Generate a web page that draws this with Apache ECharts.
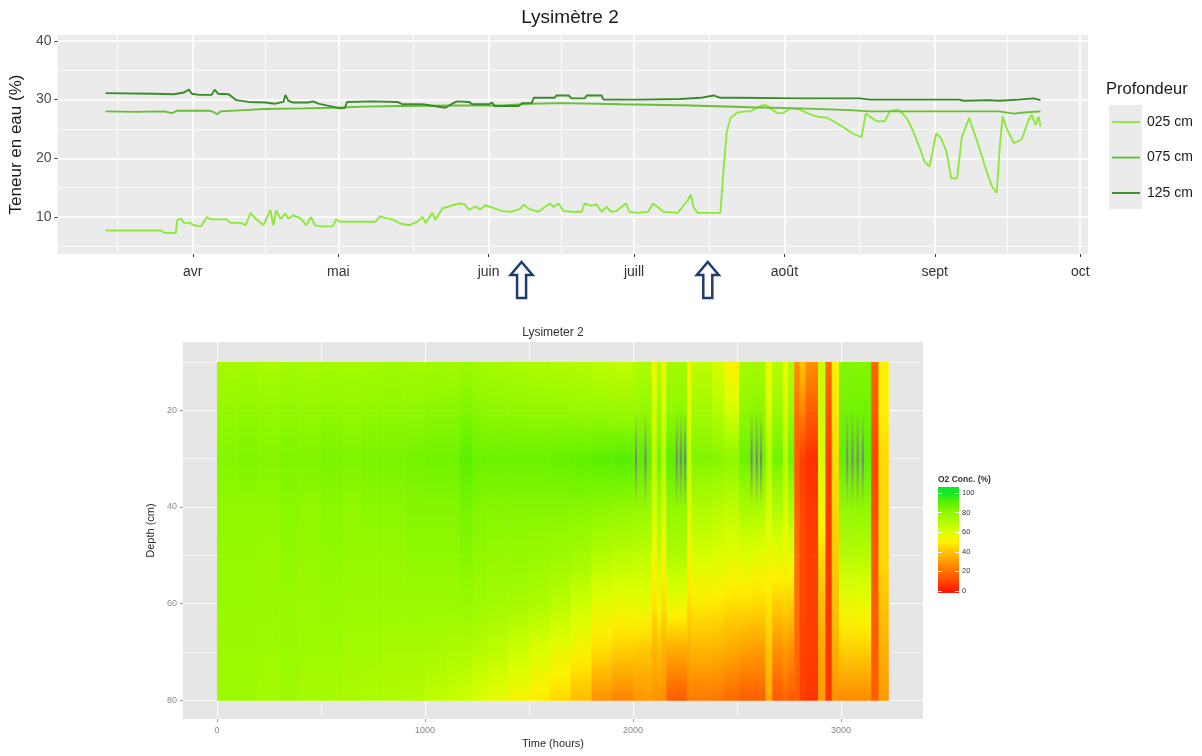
<!DOCTYPE html>
<html lang="fr">
<head>
<meta charset="utf-8">
<title>Lysimètre 2</title>
<script src="https://cdn.jsdelivr.net/npm/echarts@6/dist/echarts.min.js"></script>
<style>
html, body { margin: 0; padding: 0; background: #ffffff; }
#chart { width: 1202px; height: 756px; }
</style>
</head>
<body>
<div id="chart"></div>
<script>
// ---------- Teneur en eau (%) : jours comptés depuis le 14 mars ----------
const jours025 = [0, 11.5, 12.1, 14.5, 14.8, 15.6, 16.2, 17.4, 18.2, 19.7, 20.9, 21.7, 25.0, 25.8, 27.9, 28.9, 29.9, 31.1, 32.6, 34.0,
  34.6, 35.2, 36.1, 37.1, 37.7, 38.7, 40.2, 41.4, 42.4, 43.2, 44.3, 46.9, 47.5, 48.4, 55.7, 56.6, 57.8, 59.2, 60.7, 62.7,
  64.3, 65.4, 66.0, 67.4, 68.0, 69.5, 70.5, 71.5, 73.0, 74.0, 75.0, 76.2, 77.3, 78.3, 80.1, 81.8, 83.8, 85.5, 86.3, 87.3,
  89.3, 91.6, 92.4, 93.4, 94.5, 96.1, 98.2, 98.8, 100.2, 101.2, 102.3, 103.3, 104.3, 105.3, 106.4, 107.4, 108.0, 109.8, 111.9, 112.9,
  113.9, 115.0, 118.0, 120.1, 120.7, 121.3, 122.1, 126.8, 127.5, 128.1, 128.9, 130.3, 132.0, 133.0, 135.0, 136.1, 137.1, 138.5, 139.8, 141.2,
  143.2, 144.7, 146.7, 148.8, 151.4, 154.1, 155.9, 156.8, 157.6, 159.0, 160.7, 161.7, 163.3, 164.3, 165.4, 166.4, 167.8, 168.9, 169.9, 170.5,
  171.3, 172.3, 173.4, 174.4, 175.6, 176.6, 178.1, 178.7, 180.1, 181.6, 182.8, 183.8, 184.4, 185.0, 185.9, 187.3, 188.9, 190.4, 191.0, 191.8,
  192.4, 192.8];
const teneur025 = [7.7, 7.7, 7.3, 7.3, 9.5, 9.7, 9.0, 9.0, 8.6, 8.4, 10.0, 9.6, 9.6, 9.0, 9.0, 8.6, 10.7, 9.6, 8.6, 11.2,
  8.6, 11.1, 9.7, 10.6, 9.7, 10.3, 9.8, 8.6, 10.0, 8.6, 8.4, 8.4, 9.6, 9.2, 9.2, 10.1, 9.8, 9.6, 8.9, 8.6,
  9.2, 10.0, 9.0, 10.7, 9.5, 11.5, 11.7, 12.0, 12.3, 12.2, 11.2, 11.8, 11.3, 12.0, 11.5, 11.0, 10.9, 11.4, 12.1, 11.4,
  10.9, 12.3, 11.7, 12.3, 11.0, 10.9, 10.9, 12.3, 11.9, 12.2, 10.9, 11.7, 10.9, 11.0, 11.7, 12.3, 10.9, 10.7, 10.9, 12.3,
  11.7, 10.9, 10.7, 12.9, 13.8, 11.6, 10.7, 10.7, 18.6, 24.4, 26.9, 27.8, 28.0, 28.0, 28.9, 29.1, 28.5, 27.7, 27.7, 28.5,
  28.3, 27.7, 27.1, 26.9, 25.7, 24.2, 23.6, 27.7, 27.1, 26.3, 26.3, 28.0, 28.3, 27.7, 26.6, 24.9, 22.0, 19.4, 18.6, 20.9,
  24.3, 23.4, 21.2, 16.6, 16.6, 23.7, 26.9, 25.4, 22.0, 18.0, 15.2, 14.1, 22.0, 27.1, 24.9, 22.6, 23.2, 26.6, 27.4, 25.7,
  27.1, 25.4];

const jours075 = [0, 5.9, 12.1, 13.7, 14.8, 21.3, 22.3, 23.0, 23.8, 28.5, 32.6, 40.8, 46.9, 53.1, 61.3, 71.5, 81.8, 87.9, 94.1, 106.4,
  120.7, 133.0, 143.2, 153.5, 157.6, 184.2, 187.3, 189.3, 192.8];
const teneur075 = [28.0, 27.9, 28.0, 27.7, 28.1, 28.1, 27.9, 27.5, 28.0, 28.2, 28.4, 28.5, 28.6, 28.8, 28.9, 29.0, 29.0, 29.3, 29.4, 29.2,
  29.0, 28.7, 28.5, 28.2, 28.0, 28.0, 27.6, 27.8, 28.0];

const jours125 = [0, 10.0, 14.1, 16.2, 17.2, 17.8, 19.3, 21.9, 22.5, 23.2, 25.4, 27.0, 29.5, 33.0, 35.0, 36.7, 37.1, 37.7, 38.7, 41.8,
  42.8, 43.9, 48.4, 49.4, 49.8, 55.1, 60.2, 61.3, 65.4, 70.1, 71.5, 72.5, 75.0, 75.6, 79.1, 79.7, 80.3, 85.2, 85.9, 87.9,
  88.3, 92.6, 93.0, 95.5, 96.1, 98.8, 99.2, 102.3, 102.7, 110.5, 118.6, 122.7, 125.4, 126.8, 130.9, 143.2, 155.5, 157.6, 176.0, 177.0,
  182.2, 184.2, 188.3, 191.4, 192.8];
const teneur125 = [31.1, 31.0, 30.9, 31.2, 31.7, 31.0, 30.8, 30.8, 31.7, 31.0, 30.9, 29.9, 29.6, 29.5, 29.3, 29.6, 30.8, 29.8, 29.5, 29.5,
  29.7, 29.3, 28.5, 28.6, 29.6, 29.7, 29.6, 29.2, 29.2, 28.6, 29.3, 29.7, 29.6, 29.2, 29.2, 29.5, 28.9, 28.9, 29.4, 29.4,
  30.3, 30.3, 30.7, 30.7, 30.2, 30.2, 30.7, 30.7, 30.0, 30.0, 30.1, 30.3, 30.7, 30.3, 30.3, 30.2, 30.2, 30.0, 30.0, 29.8,
  29.9, 29.8, 30.0, 30.2, 29.9];

const moisDebut = [18, 48, 79, 109, 140, 171, 201];
const moisNoms = ['avr', 'mai', 'juin', 'juill', 'août', 'sept', 'oct'];
const moisMilieu = [2.5, 33, 63.5, 94, 124.5, 155.5, 186];
const teneurTicks = [10, 20, 30, 40];
const teneurMinor = [5, 15, 25, 35];
const flechesJours = [85.8, 124.2];

// ---------- O2 (%) : bornes des colonnes en heures, une liste par profondeur ----------
const heuresBornes = [0, 100, 200, 300, 400, 500, 600, 700, 800, 900, 1000, 1100, 1165, 1230, 1300, 1400, 1500, 1600, 1700, 1800,
  1900, 2000, 2010, 2020, 2055, 2065, 2090, 2115, 2135, 2160, 2205, 2215, 2225, 2235, 2245, 2255, 2260, 2280, 2380, 2440,
  2510, 2565, 2575, 2590, 2600, 2610, 2620, 2637, 2669, 2720, 2745, 2775, 2800, 2830, 2890, 2925, 2955, 2990, 3025, 3035,
  3050, 3060, 3075, 3085, 3100, 3110, 3145, 3180, 3227];
const profondeurs = [10, 20, 30, 40, 50, 60, 70, 80];
const o2_10 = [74, 75, 73, 75, 74, 75, 74, 75, 76, 75, 76, 75, 77, 75, 74, 73, 72, 71, 70, 68,
  67, 71, 71, 72, 72, 72, 55, 70, 55, 74, 75, 75, 75, 75, 74, 74, 52, 68, 62, 50,
  74, 75, 75, 75, 75, 74, 74, 55, 70, 55, 70, 28, 40, 28, 65, 20, 50, 82, 82, 82,
  82, 82, 82, 82, 82, 82, 18, 52];
const o2_20 = [79, 80, 79, 80, 79, 80, 79, 80, 80, 80, 81, 81, 83, 81, 80, 80, 79, 79, 78, 78,
  77, 78, 78, 79, 79, 79, 62, 77, 62, 80, 81, 81, 81, 81, 80, 80, 58, 75, 70, 62,
  80, 81, 81, 81, 81, 80, 80, 62, 77, 62, 77, 20, 25, 15, 65, 12, 48, 86, 86, 86,
  86, 86, 86, 86, 86, 86, 15, 50];
const o2_30 = [82, 83, 82, 83, 83, 84, 83, 84, 84, 85, 86, 86, 90, 87, 87, 87, 87, 88, 89, 90,
  91, 90, 110, 90, 110, 89, 70, 86, 72, 90, 110, 92, 110, 92, 110, 91, 66, 83, 82, 80,
  87, 110, 89, 110, 89, 110, 88, 72, 86, 70, 86, 14, 8, 5, 62, 8, 45, 90, 110, 90,
  110, 90, 110, 90, 110, 90, 10, 45];
const o2_40 = [80, 80, 80, 81, 80, 81, 80, 81, 81, 82, 82, 82, 85, 82, 82, 82, 82, 82, 82, 81,
  80, 79, 79, 79, 79, 78, 62, 76, 62, 80, 80, 80, 80, 80, 80, 80, 58, 72, 70, 68,
  74, 74, 74, 74, 74, 73, 73, 62, 72, 62, 72, 16, 10, 7, 55, 7, 44, 80, 80, 80,
  80, 80, 80, 80, 80, 80, 12, 45];
const o2_50 = [79, 79, 78, 80, 79, 80, 79, 79, 79, 80, 80, 80, 82, 80, 79, 79, 78, 77, 75, 71,
  69, 68, 68, 68, 68, 68, 54, 66, 52, 72, 72, 72, 72, 72, 72, 72, 52, 62, 60, 58,
  60, 58, 58, 58, 58, 58, 58, 55, 58, 54, 58, 20, 10, 8, 45, 6, 42, 70, 70, 70,
  70, 70, 70, 70, 70, 70, 15, 45];
const o2_60 = [78, 78, 78, 78, 77, 78, 77, 77, 77, 77, 77, 77, 78, 76, 75, 74, 72, 69, 64, 58,
  56, 57, 57, 57, 57, 57, 47, 55, 46, 56, 56, 56, 56, 56, 56, 56, 46, 49, 48, 46,
  46, 45, 45, 45, 45, 45, 45, 48, 42, 44, 42, 20, 10, 8, 38, 6, 40, 56, 56, 56,
  56, 56, 56, 56, 56, 56, 15, 40];
const o2_70 = [77, 77, 76, 77, 76, 76, 75, 75, 74, 74, 73, 72, 72, 70, 68, 64, 60, 56, 52, 45,
  42, 41, 41, 40, 40, 40, 36, 38, 35, 33, 33, 33, 33, 33, 33, 33, 34, 36, 35, 33,
  31, 30, 30, 30, 30, 30, 30, 40, 27, 30, 27, 18, 9, 8, 33, 6, 35, 42, 42, 42,
  42, 42, 42, 42, 42, 42, 15, 35];
const o2_80 = [76, 76, 75, 76, 74, 74, 73, 72, 71, 70, 68, 66, 64, 61, 57, 53, 49, 45, 38, 28,
  24, 28, 28, 29, 29, 30, 28, 28, 27, 15, 14, 14, 14, 14, 15, 15, 22, 22, 21, 18,
  15, 15, 15, 15, 16, 16, 16, 34, 14, 18, 14, 15, 8, 6, 30, 6, 28, 26, 26, 26,
  26, 26, 26, 26, 26, 26, 15, 30];
const heuresTicks = [0, 1000, 2000, 3000];
const heuresMinor = [500, 1500, 2500];
const profTicks = [20, 40, 60, 80];
const profMinor = [10, 30, 50, 70];
const o2LegendTicks = [0, 20, 40, 60, 80, 100];

// Palette rouge -> jaune -> vert ; au-dessus de 100 : valeur hors échelle (gris)
const o2Stops = [[0, '#ff1800'], [10, '#ff4800'], [20, '#ff7000'], [30, '#ff9a00'], [40, '#ffc400'],
  [50, '#fff000'], [60, '#dcff00'], [70, '#b6fc00'], [80, '#90f800'], [90, '#5cf000'], [100, '#14e82a']];
const naColor = '#7f7f7f';

function hexToRgb(h) {
  return [parseInt(h.slice(1, 3), 16), parseInt(h.slice(3, 5), 16), parseInt(h.slice(5, 7), 16)];
}
const stopsRgb = o2Stops.map(s => [s[0], hexToRgb(s[1])]);
function o2Rgb(v) {
  if (v > 100) return hexToRgb(naColor);
  v = Math.max(0, v);
  for (let i = 1; i < stopsRgb.length; i++) {
    if (v <= stopsRgb[i][0]) {
      const a = stopsRgb[i - 1], b = stopsRgb[i];
      const t = (v - a[0]) / (b[0] - a[0]);
      return a[1].map((c, k) => Math.round(c + (b[1][k] - c) * t));
    }
  }
  return stopsRgb[stopsRgb.length - 1][1];
}
function rgbStr(c) { return 'rgb(' + c[0] + ',' + c[1] + ',' + c[2] + ')'; }

// dégradé vertical entre deux profondeurs mesurées
function cellGradient(v0, v1) {
  const stops = [];
  if (v0 > 100 || v1 > 100) {
    stops.push({ offset: 0, color: rgbStr(o2Rgb(v0)) }, { offset: 1, color: rgbStr(o2Rgb(v1)) });
  } else {
    for (let k = 0; k <= 4; k++) {
      stops.push({ offset: k / 4, color: rgbStr(o2Rgb(v0 + (v1 - v0) * k / 4)) });
    }
  }
  return new echarts.graphic.LinearGradient(0, 0, 0, 1, stops);
}

const o2Rows = [o2_10, o2_20, o2_30, o2_40, o2_50, o2_60, o2_70, o2_80];
const o2Cells = [];
for (let i = 0; i < heuresBornes.length - 1; i++) {
  for (let j = 0; j < profondeurs.length - 1; j++) {
    o2Cells.push([heuresBornes[i], heuresBornes[i + 1], profondeurs[j], profondeurs[j + 1], o2Rows[j][i], o2Rows[j + 1][i]]);
  }
}

const pairs = (xs, ys) => xs.map((x, i) => [x, ys[i]]);
const TENEUR_MIN = 3.7, TENEUR_MAX = 41;
const FONT = "'Liberation Sans', Arial, Helvetica, sans-serif";
const plain = v => String(v);

const chart = echarts.init(document.getElementById('chart'), null, { renderer: 'canvas' });

const hiddenLine = { show: false, onZero: false };
const minorAxisBase = { axisLabel: { show: false }, axisLine: hiddenLine };

chart.setOption({
  animation: false,
  textStyle: { fontFamily: FONT },
  title: [
    { text: 'Lysimètre 2', left: 570, top: 8, textAlign: 'center', padding: 0,
      textStyle: { fontSize: 19, fontWeight: 'normal', color: '#1a1a1a', fontFamily: FONT } },
    { text: 'Profondeur', left: 1106, top: 81, padding: 0,
      textStyle: { fontSize: 16.5, fontWeight: 'normal', color: '#1a1a1a', fontFamily: FONT } },
    { text: 'Lysimeter 2', left: 553, top: 327, textAlign: 'center', padding: 0,
      textStyle: { fontSize: 12, fontWeight: 'normal', color: '#333333', fontFamily: FONT } },
    { text: 'O2 Conc. (%)', left: 938, top: 475, padding: 0,
      textStyle: { fontSize: 8.5, fontWeight: 'bold', color: '#333333', fontFamily: FONT } }
  ],
  legend: {
    data: ['025 cm', '075 cm', '125 cm'],
    orient: 'vertical', left: 1112, top: 115, padding: 0,
    icon: 'rect', itemWidth: 28, itemHeight: 1.9, itemGap: 21.5,
    textStyle: { fontSize: 14, lineHeight: 14, color: '#1a1a1a', fontFamily: FONT, padding: [0, 0, 0, 2] },
    selectedMode: false
  },
  graphic: [
    { type: 'rect', z: 0, silent: true, shape: { x: 1109, y: 105, width: 33, height: 104 }, style: { fill: '#ebebeb' } }
  ],
  grid: [
    { left: 53, top: 35, width: 1035, height: 219, show: true, backgroundColor: '#ebebeb', borderWidth: 0 },
    { left: 183, top: 342, width: 740, height: 381, show: true, backgroundColor: '#e6e6e6', borderWidth: 0 },
    { left: 938, top: 487, width: 21, height: 106, show: false }
  ],
  xAxis: [
    { type: 'value', gridIndex: 0, min: -9.9, max: 202.6,
      axisLine: hiddenLine,
      axisTick: { show: true, length: 3, lineStyle: { color: '#333333' }, customValues: moisDebut },
      axisLabel: { customValues: moisDebut, margin: 11, fontSize: 14, color: '#333333', fontFamily: FONT,
        formatter: v => moisNoms[moisDebut.indexOf(Math.round(v))] || '' },
      splitLine: { show: true, lineStyle: { color: '#ffffff', width: 1.6 } } },
    Object.assign({ type: 'value', gridIndex: 0, min: -9.9, max: 202.6, position: 'bottom',
      axisTick: { show: false, customValues: moisMilieu },
      splitLine: { show: true, lineStyle: { color: '#ffffff', width: 0.8 } } }, minorAxisBase),
    { type: 'value', gridIndex: 1, min: -163, max: 3394,
      name: 'Time (hours)', nameLocation: 'middle', nameGap: 19,
      nameTextStyle: { fontSize: 11, color: '#2b2b2b', fontFamily: FONT },
      axisLine: hiddenLine,
      axisTick: { show: true, length: 3, lineStyle: { color: '#9a9a9a' }, customValues: heuresTicks },
      axisLabel: { customValues: heuresTicks, margin: 7, fontSize: 9, color: '#8a8a8a', fontFamily: FONT, formatter: plain },
      splitLine: { show: true, lineStyle: { color: '#ffffff', width: 1.1 } } },
    Object.assign({ type: 'value', gridIndex: 1, min: -163, max: 3394, position: 'bottom',
      axisTick: { show: false, customValues: heuresMinor },
      splitLine: { show: true, lineStyle: { color: '#ffffff', width: 0.6 } } }, minorAxisBase),
    { type: 'value', gridIndex: 2, min: 0, max: 1, show: false }
  ],
  yAxis: [
    { type: 'value', gridIndex: 0, min: TENEUR_MIN, max: TENEUR_MAX,
      name: 'Teneur en eau (%)', nameLocation: 'middle', nameGap: 22,
      nameTextStyle: { fontSize: 17, color: '#1a1a1a', fontFamily: FONT },
      axisLine: hiddenLine,
      axisTick: { show: true, length: 3, lineStyle: { color: '#333333' }, customValues: teneurTicks },
      axisLabel: { customValues: teneurTicks, margin: 6, fontSize: 14, color: '#4d4d4d', fontFamily: FONT, formatter: plain },
      splitLine: { show: true, lineStyle: { color: '#ffffff', width: 1.6 } } },
    Object.assign({ type: 'value', gridIndex: 0, min: TENEUR_MIN, max: TENEUR_MAX, position: 'left',
      axisTick: { show: false, customValues: teneurMinor },
      splitLine: { show: true, lineStyle: { color: '#ffffff', width: 0.8 } } }, minorAxisBase),
    { type: 'value', gridIndex: 1, min: 5.87, max: 83.9, inverse: true,
      name: 'Depth (cm)', nameLocation: 'middle', nameGap: 20,
      nameTextStyle: { fontSize: 11, color: '#2b2b2b', fontFamily: FONT },
      axisLine: hiddenLine,
      axisTick: { show: true, length: 3, lineStyle: { color: '#9a9a9a' }, customValues: profTicks },
      axisLabel: { customValues: profTicks, margin: 6, fontSize: 9, color: '#8a8a8a', fontFamily: FONT, formatter: plain },
      splitLine: { show: true, lineStyle: { color: '#ffffff', width: 1.1 } } },
    Object.assign({ type: 'value', gridIndex: 1, min: 5.87, max: 83.9, inverse: true, position: 'left',
      axisTick: { show: false, customValues: profMinor },
      splitLine: { show: true, lineStyle: { color: '#ffffff', width: 0.6 } } }, minorAxisBase),
    { type: 'value', gridIndex: 2, min: -2, max: 106, position: 'right', z: 5,
      axisLine: hiddenLine,
      axisTick: { show: true, inside: true, length: 4, lineStyle: { color: '#ffffff', width: 1 }, customValues: o2LegendTicks },
      axisLabel: { customValues: o2LegendTicks, margin: 3, fontSize: 7.5, color: '#333333', fontFamily: FONT, formatter: plain },
      splitLine: { show: false } },
    { type: 'value', gridIndex: 2, min: -2, max: 106, position: 'left', z: 5,
      axisLine: hiddenLine,
      axisTick: { show: true, inside: true, length: 4, lineStyle: { color: '#ffffff', width: 1 }, customValues: o2LegendTicks },
      axisLabel: { show: false },
      splitLine: { show: false } }
  ],
  series: [
    { name: '025 cm', type: 'line', xAxisIndex: 0, yAxisIndex: 0, data: pairs(jours025, teneur025),
      showSymbol: false, symbol: 'none', color: '#8de83e', lineStyle: { width: 1.9, color: '#8de83e' }, z: 3 },
    { name: '075 cm', type: 'line', xAxisIndex: 0, yAxisIndex: 0, data: pairs(jours075, teneur075),
      showSymbol: false, symbol: 'none', color: '#68bf37', lineStyle: { width: 1.9, color: '#68bf37' }, z: 4 },
    { name: '125 cm', type: 'line', xAxisIndex: 0, yAxisIndex: 0, data: pairs(jours125, teneur125),
      showSymbol: false, symbol: 'none', color: '#3b8a29', lineStyle: { width: 1.9, color: '#3b8a29' }, z: 5 },
    { name: 'flèches', type: 'custom', xAxisIndex: 0, yAxisIndex: 0, clip: false, silent: true,
      data: flechesJours.map(d => [d, TENEUR_MIN]),
      renderItem(params, api) {
        const p = api.coord([api.value(0), api.value(1)]);
        const x = p[0], y0 = p[1];
        const top = y0 + 8, neck = y0 + 21, bottom = y0 + 44, hw = 11, sw = 4.5;
        return {
          type: 'polygon',
          shape: { points: [[x, top], [x + hw, neck], [x + sw, neck], [x + sw, bottom], [x - sw, bottom], [x - sw, neck], [x - hw, neck]] },
          style: { fill: '#ffffff', stroke: '#1f3c6e', lineWidth: 2.5, lineJoin: 'miter' }
        };
      } },
    { name: 'O2', type: 'custom', xAxisIndex: 2, yAxisIndex: 2, silent: true, clip: true,
      data: o2Cells, encode: { x: [0, 1], y: [2, 3] },
      renderItem(params, api) {
        const a = api.coord([api.value(0), api.value(2)]);
        const b = api.coord([api.value(1), api.value(3)]);
        return {
          type: 'rect',
          shape: { x: a[0], y: a[1], width: b[0] - a[0] + 0.5, height: b[1] - a[1] + 0.5 },
          style: { fill: cellGradient(api.value(4), api.value(5)) }
        };
      } },
    { name: 'échelle O2', type: 'custom', xAxisIndex: 4, yAxisIndex: 4, silent: true, clip: false,
      data: [[0, 1, 106, -2]],
      renderItem(params, api) {
        const a = api.coord([api.value(0), api.value(2)]);
        const b = api.coord([api.value(1), api.value(3)]);
        const hi = api.value(2), lo = api.value(3);
        const stops = [];
        for (let v = 100; v >= 0; v -= 5) {
          stops.push({ offset: (hi - v) / (hi - lo), color: rgbStr(o2Rgb(v)) });
        }
        stops.unshift({ offset: 0, color: rgbStr(o2Rgb(100)) });
        stops.push({ offset: 1, color: rgbStr(o2Rgb(0)) });
        return {
          type: 'rect',
          shape: { x: a[0], y: a[1], width: b[0] - a[0], height: b[1] - a[1] },
          style: { fill: new echarts.graphic.LinearGradient(0, 0, 0, 1, stops) }
        };
      } }
  ]
});
</script>
</body>
</html>
